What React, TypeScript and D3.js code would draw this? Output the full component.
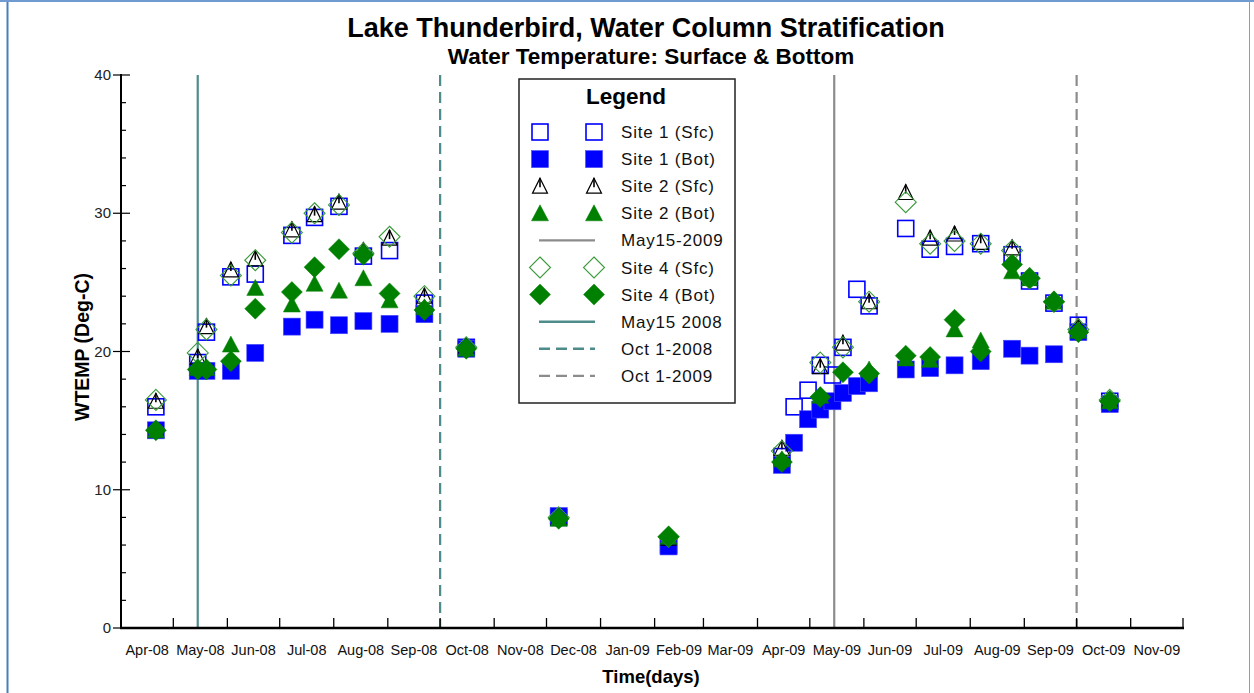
import React from "react";
import * as d3 from "d3";

// ---------- data ----------
const sampleDates = [
  "2008-04-21", "2008-05-15", "2008-05-20", "2008-06-03", "2008-06-17", "2008-07-08",
  "2008-07-21", "2008-08-04", "2008-08-18", "2008-09-02", "2008-09-22", "2008-10-16",
  "2008-12-08", "2009-02-09", "2009-04-15", "2009-04-22", "2009-04-30", "2009-05-07",
  "2009-05-14", "2009-05-20", "2009-05-28", "2009-06-04", "2009-06-25", "2009-07-09",
  "2009-07-23", "2009-08-07", "2009-08-25", "2009-09-04", "2009-09-18", "2009-10-02",
  "2009-10-20",
];

const site1Sfc = [16.0, 19.2, 21.4, 25.4, 25.6, 28.4, 29.7, 30.5, 26.9, 27.3, 23.5, 20.3,
  8.0, 6.0, 12.4, 16.0, 17.2, 19.0, 18.3, 20.3, 24.5, 23.3, 28.9, 27.4, 27.6, 27.8, 27.0,
  25.1, 23.5, 21.9, 16.4];
const site1Bot = [14.3, 18.6, 18.6, 18.6, 19.9, 21.8, 22.3, 21.9, 22.2, 22.0, 22.7, 20.2,
  8.1, 5.9, 11.8, 13.4, 15.1, 15.8, 16.4, 17.0, 17.5, 17.7, 18.7, 18.8, 19.0, 19.3, 20.2,
  19.7, 19.8, 21.4, 16.2];
const site2Sfc = [16.4, 19.6, 21.8, 25.9, 26.7, 28.8, 29.9, 30.8, 27.3, 28.2, 24.0, 20.4,
  8.0, 6.5, 13.0, null, null, 18.9, null, 20.6, null, 23.6, 31.5, 28.2, 28.5, 27.9, 27.5,
  25.3, 23.7, 21.8, 16.5];
const site2Bot = [14.3, 18.8, 18.8, 20.5, 24.6, 23.4, 24.9, 24.4, 25.3, 23.7, 23.2, 20.2,
  7.9, 6.6, 12.2, null, null, 16.8, null, null, null, 18.7, 19.5, 19.4, 21.6, 20.8, 25.8,
  25.3, 23.6, 21.5, 16.4];
const site4Sfc = [16.5, 19.9, 21.6, 25.5, 26.6, 28.6, 30.0, 30.6, 27.1, 28.3, 24.0, 20.3,
  8.0, 6.6, 12.8, null, null, 19.2, null, 20.3, null, 23.6, 30.8, 27.8, 28.0, 27.8, 27.3,
  25.3, 23.6, 21.6, 16.5];
const site4Bot = [14.3, 18.7, 18.7, 19.3, 23.1, 24.3, 26.1, 27.4, 27.0, 24.2, 23.0, 20.2,
  7.9, 6.6, 12.0, null, null, 16.7, null, 18.5, null, 18.4, 19.7, 19.6, 22.3, 20.0, 26.3,
  25.3, 23.6, 21.4, 16.4];

const monthLabels = ["Apr-08", "May-08", "Jun-08", "Jul-08", "Aug-08", "Sep-08", "Oct-08",
  "Nov-08", "Dec-08", "Jan-09", "Feb-09", "Mar-09", "Apr-09", "May-09", "Jun-09", "Jul-09",
  "Aug-09", "Sep-09", "Oct-09", "Nov-09"];
const yTicks = [0, 10, 20, 30, 40];
const refDates = ["2008-05-15", "2008-10-01", "2009-05-15", "2009-10-01"];

// ---------- styling / layout ----------
const W = 1254, H = 693;
const FONT = "'Liberation Sans', Arial, sans-serif";
const BLUE = "#0000ff";
const GREEN = "#008000";
const GREEN_LIGHT = "#3a9a3a";
const TEAL = "#4e8b8b";
const GRAY = "#8c8c8c";

const parse = d3.timeParse("%Y-%m-%d");
const x = d3.scaleTime()
  .domain([new Date(2008, 3, 1), new Date(2009, 11, 1)])
  .range([121, 1183]);
const y = d3.scaleLinear().domain([0, 40]).range([628, 75]);

type Kind = "sqOpen" | "sqFill" | "triOpen" | "triFill" | "diaOpen" | "diaFill";

const series: { name: string; kind: Kind; values: (number | null)[] }[] = [
  { name: "Site 1 (Sfc)", kind: "sqOpen", values: site1Sfc },
  { name: "Site 1 (Bot)", kind: "sqFill", values: site1Bot },
  { name: "Site 2 (Sfc)", kind: "triOpen", values: site2Sfc },
  { name: "Site 2 (Bot)", kind: "triFill", values: site2Bot },
  { name: "Site 4 (Sfc)", kind: "diaOpen", values: site4Sfc },
  { name: "Site 4 (Bot)", kind: "diaFill", values: site4Bot },
];

const refStyles = [
  { name: "May15 2008", color: TEAL, dash: null as string | null },
  { name: "Oct 1-2008", color: TEAL, dash: "11,6" },
  { name: "May15-2009", color: GRAY, dash: null as string | null },
  { name: "Oct 1-2009", color: GRAY, dash: "11,6" },
];

function Marker({ kind, cx, cy }: { kind: Kind; cx: number; cy: number }) {
  switch (kind) {
    case "sqOpen":
      return <rect x={cx - 8} y={cy - 8} width={16} height={16} fill="none" stroke={BLUE} strokeWidth={1.6} />;
    case "sqFill":
      return <rect x={cx - 8.5} y={cy - 8.5} width={17} height={17} fill={BLUE} stroke="#4a4aff" strokeWidth={0.6} />;
    case "triOpen":
      return (
        <g fill="none" stroke="#000" strokeWidth={1.2}>
          <path d={`M${cx},${cy - 8}L${cx + 7.5},${cy + 7}L${cx - 7.5},${cy + 7}Z`} />
          <path d={`M${cx},${cy - 8}L${cx},${cy + 1}`} strokeWidth={1.6} />
        </g>
      );
    case "triFill":
      return <path d={`M${cx},${cy - 8.5}L${cx + 8.5},${cy + 7.5}L${cx - 8.5},${cy + 7.5}Z`} fill={GREEN} stroke={GREEN} strokeWidth={0.5} />;
    case "diaOpen":
      return <path d={`M${cx},${cy - 10.5}L${cx + 10.5},${cy}L${cx},${cy + 10.5}L${cx - 10.5},${cy}Z`} fill="none" stroke={GREEN_LIGHT} strokeWidth={1.1} />;
    case "diaFill":
      return <path d={`M${cx},${cy - 10.5}L${cx + 10.5},${cy}L${cx},${cy + 10.5}L${cx - 10.5},${cy}Z`} fill={GREEN} stroke={GREEN} strokeWidth={0.5} />;
  }
  return null;
}

export default function App() {
  const monthStarts = d3.timeMonth.range(new Date(2008, 3, 1), new Date(2009, 11, 2));
  const dates = sampleDates.map((d) => parse(d) as Date);
  const yMinor = d3.range(0, 41, 2).filter((v) => v % 10 !== 0);

  const legendRows: ({ type: "marker"; kind: Kind; label: string } | { type: "line"; color: string; dash: string | null; label: string })[] = [
    { type: "marker", kind: "sqOpen", label: series[0].name },
    { type: "marker", kind: "sqFill", label: series[1].name },
    { type: "marker", kind: "triOpen", label: series[2].name },
    { type: "marker", kind: "triFill", label: series[3].name },
    { type: "line", color: refStyles[2].color, dash: refStyles[2].dash, label: refStyles[2].name },
    { type: "marker", kind: "diaOpen", label: series[4].name },
    { type: "marker", kind: "diaFill", label: series[5].name },
    { type: "line", color: refStyles[0].color, dash: refStyles[0].dash, label: refStyles[0].name },
    { type: "line", color: refStyles[1].color, dash: refStyles[1].dash, label: refStyles[1].name },
    { type: "line", color: refStyles[3].color, dash: refStyles[3].dash, label: refStyles[3].name },
  ];

  return (
    <svg width={W} height={H} style={{ position: "absolute", left: 0, top: 0, background: "#fff" }} fontFamily={FONT}>
      <rect x={0} y={0} width={W} height={H} fill="#fff" />
      {/* frame */}
      <line x1={7.5} y1={0} x2={7.5} y2={H} stroke="#4a7ebb" strokeWidth={2} />
      <line x1={0} y1={1} x2={W} y2={1} stroke="#6f9bd1" strokeWidth={2} />
      <line x1={1249.5} y1={0} x2={1249.5} y2={H} stroke="#9a9a9a" strokeWidth={1} />

      {/* titles */}
      <text x={646} y={37} textAnchor="middle" fontSize={27} fontWeight="bold" fill="#000">
        Lake Thunderbird, Water Column Stratification
      </text>
      <text x={651} y={64} textAnchor="middle" fontSize={22.5} fontWeight="bold" fill="#000">
        Water Temperature: Surface &amp; Bottom
      </text>

      {/* reference lines */}
      {refDates.map((d, i) => {
        const xx = x(parse(d) as Date);
        return (
          <line key={d} x1={xx} x2={xx} y1={y(40)} y2={y(0)} stroke={refStyles[i].color}
            strokeWidth={2.2} strokeDasharray={refStyles[i].dash ?? undefined} />
        );
      })}

      {/* axes */}
      <line x1={121} x2={121} y1={y(40) - 1} y2={y(0) + 1} stroke="#000" strokeWidth={2} />
      <line x1={120} x2={1184} y1={y(0)} y2={y(0)} stroke="#000" strokeWidth={2.4} />
      {yTicks.map((t) => (
        <g key={t}>
          <line x1={113} x2={130} y1={y(t)} y2={y(t)} stroke="#000" strokeWidth={1.2} />
          <text x={111} y={y(t) + 5} textAnchor="end" fontSize={15} fill="#222">{t}</text>
        </g>
      ))}
      {yMinor.map((t) => (
        <line key={t} x1={121} x2={126} y1={y(t)} y2={y(t)} stroke="#000" strokeWidth={1.2} />
      ))}
      {monthStarts.map((m, i) => (
        <line key={i} x1={x(m)} x2={x(m)} y1={y(0)} y2={y(0) - 10} stroke="#000" strokeWidth={1.3} />
      ))}
      {monthLabels.map((lab, i) => {
        const a = monthStarts[i], b = monthStarts[i + 1];
        const mid = (x(a) + x(b)) / 2;
        return (
          <text key={lab} x={mid} y={655} textAnchor="middle" fontSize={14.5} fill="#111">{lab}</text>
        );
      })}
      <text x={651} y={683} textAnchor="middle" fontSize={18.5} fontWeight="bold" fill="#000">Time(days)</text>
      <text transform={`translate(89,347) rotate(-90)`} textAnchor="middle" fontSize={19.5} fontWeight="bold" fill="#000">
        WTEMP (Deg-C)
      </text>

      {/* data */}
      {series.map((s) => (
        <g key={s.name}>
          {s.values.map((v, i) =>
            v == null ? null : <Marker key={i} kind={s.kind} cx={x(dates[i])} cy={y(v)} />
          )}
        </g>
      ))}

      {/* legend */}
      <rect x={519} y={79} width={216} height={324} fill="#fff" stroke="#222" strokeWidth={1.5} />
      <text x={626} y={104} textAnchor="middle" fontSize={22.5} fontWeight="bold" fill="#000">Legend</text>
      {legendRows.map((r, i) => {
        const cy = 132 + i * 27.1;
        return (
          <g key={r.label}>
            {r.type === "marker" ? (
              <>
                <Marker kind={r.kind} cx={540} cy={cy} />
                <Marker kind={r.kind} cx={594} cy={cy} />
              </>
            ) : (
              <line x1={539} x2={595} y1={cy} y2={cy} stroke={r.color} strokeWidth={2.4}
                strokeDasharray={r.dash ?? undefined} />
            )}
            <text x={621} y={cy + 6} fontSize={17} fill="#111" letterSpacing={0.8}>{r.label}</text>
          </g>
        );
      })}
    </svg>
  );
}
